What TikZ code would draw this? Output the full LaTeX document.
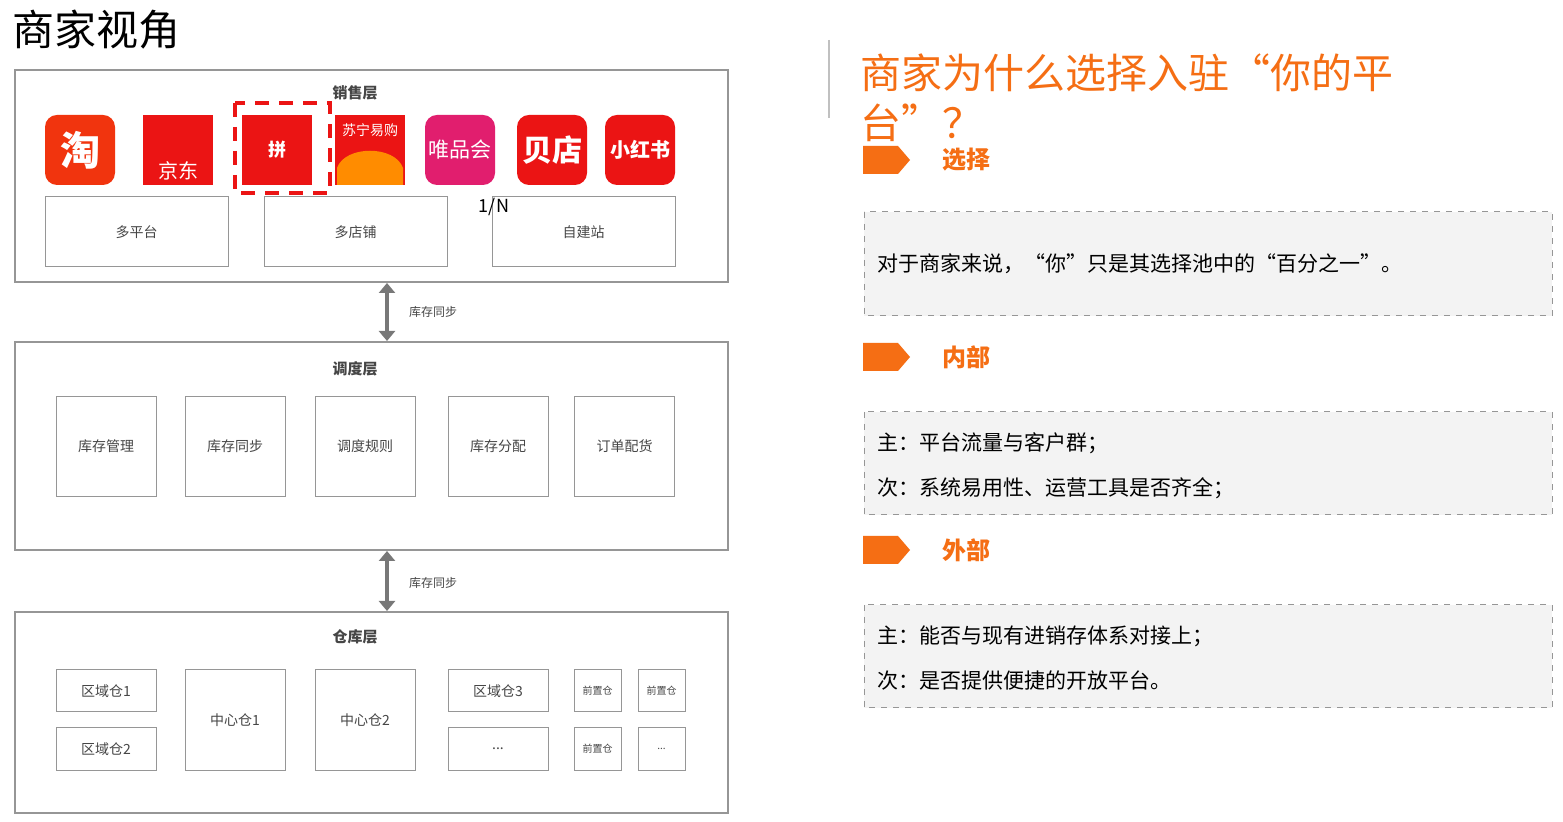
\documentclass[tikz,border=0pt]{standalone}
\usepackage{fontspec}
\setmainfont{Noto Sans CJK SC}
\usetikzlibrary{arrows.meta}
\definecolor{line_gray}{RGB}{150,150,150}
\definecolor{text_gray}{RGB}{70,70,70}
\definecolor{tag_orange}{RGB}{245,110,20}
\definecolor{logo_red}{RGB}{235,20,20}
\definecolor{logo_pink}{RGB}{225,30,110}
\definecolor{box_fill}{RGB}{243,243,243}

\begin{document}
\begin{tikzpicture}[x=0.5pt,y=-0.5pt,>=Triangle]
    \tikzstyle{layer}=[draw=line_gray, line width=0.6pt]
    \tikzstyle{cell}=[draw=line_gray, line width=0.5pt, font=\fontsize{7}{8}\selectfont, text=text_gray, inner sep=0pt]
    \tikzstyle{layername}=[font=\fontsize{7.5}{9}\selectfont\bfseries, text=text_gray]
    \tikzstyle{logo}=[fill=logo_red, text=white, minimum size=35pt, inner sep=0pt, font=\fontsize{12}{12}\selectfont\bfseries]
    \tikzstyle{syncarrow}=[line_gray!80!black, line width=2pt, {Triangle[length=5pt,width=8pt]}-{Triangle[length=5pt,width=8pt]}]
    \tikzstyle{synclabel}=[font=\fontsize{6}{7}\selectfont, text=text_gray, anchor=west]
    \tikzstyle{tagname}=[text=tag_orange, font=\fontsize{12}{14}\selectfont\bfseries, anchor=west]
    \tikzstyle{note}=[draw=line_gray, dashed, fill=box_fill, line width=0.5pt]
    \tikzstyle{notetext}=[font=\fontsize{10.5}{12}\selectfont, anchor=west, inner sep=0pt]

    \useasboundingbox[fill=white] (0,0) rectangle (1563,822);

    % left side
    \node[anchor=west, font=\fontsize{21}{24}\selectfont, inner sep=0pt] (title) at (12,30) {商家视角};

    \draw[layer] (15,70) rectangle (728,282);
    \draw[layer] (15,342) rectangle (728,550);
    \draw[layer] (15,612) rectangle (728,813);
    \node[layername] (sales) at (355,93) {销售层};
    \node[layername] (dispatch) at (355,369) {调度层};
    \node[layername] (store) at (355,637) {仓库层};

    % logos
    \node[logo, rounded corners=6pt, fill=logo_red!70!orange, font=\fontsize{20}{20}\selectfont\bfseries] (tb) at (80,150) {淘};
    \node[logo] (jd) at (178,150) {};
    \node[text=white, font=\fontsize{10}{10}\selectfont, inner sep=0pt] (jdname) at (178,171) {京东};
    \node[logo, font=\fontsize{9}{9}\selectfont\bfseries] (pdd) at (277,150) {拼};
    \node[logo] (sn) at (370,150) {};
    \node[text=white, font=\fontsize{7}{7}\selectfont, inner sep=0pt] (snname) at (370,130) {苏宁易购};
    \fill[orange!90!yellow] (337,185) -- (337,168) .. controls (345,145) and (395,145) .. (403,168) -- (403,185) -- cycle;
    \node[logo, rounded corners=6pt, fill=logo_pink, font=\fontsize{10.5}{10}\selectfont] (vip) at (460,150) {唯品会};
    \node[logo, rounded corners=6pt, font=\fontsize{15}{15}\selectfont\bfseries] (bd) at (552,150) {贝店};
    \node[logo, rounded corners=6pt, font=\fontsize{10}{10}\selectfont\bfseries] (xhs) at (640,150) {小红书};
    \draw[logo_red, line width=1.6pt, dash pattern=on 7pt off 5pt] (235,103) rectangle (330,193);

    \node[cell, minimum width=91.5pt, minimum height=35pt] (multi) at (136.5,232) {多平台};
    \node[cell, minimum width=91.5pt, minimum height=35pt] (shops) at (355.5,232) {多店铺};
    \node[cell, minimum width=91.5pt, minimum height=35pt] (own) at (583.5,232) {自建站};
    \node[font=\fontsize{9}{9}\selectfont, inner sep=0pt] (ratio) at (494,207) {1/N};

    % dispatch cells
    \foreach \x/\t [count=\i] in {106/库存管理,235/库存同步,365/调度规则,498/库存分配,624.5/订单配货}
        \node[cell, minimum width=50pt, minimum height=50pt] (d\i) at (\x,446.5) {\t};

    % warehouse cells
    \node[cell, minimum width=50pt, minimum height=21pt] (r1) at (106,691) {区域仓1};
    \node[cell, minimum width=50pt, minimum height=21pt] (r2) at (106,749) {区域仓2};
    \node[cell, minimum width=50pt, minimum height=50pt] (c1) at (235,720) {中心仓1};
    \node[cell, minimum width=50pt, minimum height=50pt] (c2) at (365,720) {中心仓2};
    \node[cell, minimum width=50pt, minimum height=21pt] (r3) at (498,691) {区域仓3};
    \node[cell, minimum width=50pt, minimum height=21pt] (rx) at (498,749) {...};
    \node[cell, minimum width=23.5pt, minimum height=21pt, font=\fontsize{5}{6}\selectfont] (f1) at (597.5,691) {前置仓};
    \node[cell, minimum width=23.5pt, minimum height=21pt, font=\fontsize{5}{6}\selectfont] (f2) at (661.5,691) {前置仓};
    \node[cell, minimum width=23.5pt, minimum height=21pt, font=\fontsize{5}{6}\selectfont] (f3) at (597.5,749) {前置仓};
    \node[cell, minimum width=23.5pt, minimum height=21pt, font=\fontsize{5}{6}\selectfont] (fx) at (661.5,749) {...};

    % sync arrows
    \coordinate (s1a) at (387,283);
    \coordinate (s1b) at (387,341);
    \coordinate (s2a) at (387,551);
    \coordinate (s2b) at (387,611);
    \draw[syncarrow] (s1a) -- (s1b);
    \draw[syncarrow] (s2a) -- (s2b);
    \node[synclabel] (sync1) at (402,312) {库存同步};
    \node[synclabel] (sync2) at (402,583) {库存同步};

    % right side
    \draw[line_gray!60, line width=0.6pt] (829,40) -- (829,118);
    \node[anchor=west, text=tag_orange, font=\fontsize{20.5}{25}\selectfont, inner sep=0pt] (why1) at (860,73) {商家为什么选择入驻“你的平};
    \node[anchor=west, text=tag_orange, font=\fontsize{20.5}{25}\selectfont, inner sep=0pt] (why2) at (860,123) {台”？};

    \foreach \y/\t [count=\i] in {160/选择,357/内部,550/外部} {
        \fill[tag_orange] (863,\y-14) -- (898,\y-14) -- (910,\y) -- (898,\y+14) -- (863,\y+14) -- cycle;
        \node[tagname] (tag\i) at (935,\y) {\t};
    }

    \draw[note] (864,212) rectangle (1552,316);
    \draw[note] (864,412) rectangle (1552,515);
    \draw[note] (864,605) rectangle (1552,708);
    \node[notetext] (n1) at (877,264) {对于商家来说，“你”只是其选择池中的“百分之一”。};
    \node[notetext] (n2) at (877,443) {主：平台流量与客户群；};
    \node[notetext] (n3) at (877,488) {次：系统易用性、运营工具是否齐全；};
    \node[notetext] (n4) at (877,636) {主：能否与现有进销存体系对接上；};
    \node[notetext] (n5) at (877,681) {次：是否提供便捷的开放平台。};
\end{tikzpicture}
\end{document}
